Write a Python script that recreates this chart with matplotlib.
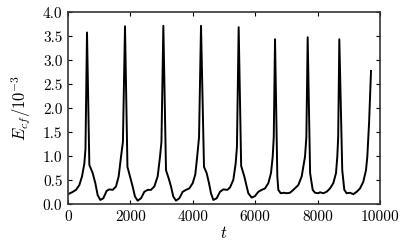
import matplotlib
matplotlib.use("Agg")
import matplotlib.pyplot as plt
from matplotlib.ticker import MultipleLocator, FormatStrFormatter

t = [0, 130, 256, 363, 449, 524, 560, 609, 684, 791, 876, 951, 1036, 1132, 1239, 1325,
     1432, 1538, 1624, 1699, 1760, 1827, 1905, 1987, 2072, 2147, 2233, 2340, 2446, 2553,
     2660, 2766, 2874, 2949, 2995, 3056, 3141, 3227, 3301, 3375, 3462, 3568, 3676, 3782,
     3888, 3997, 4080, 4140, 4200, 4263, 4359, 4444, 4519, 4583, 4658, 4766, 4872, 4978,
     5106, 5192, 5299, 5374, 5415, 5470, 5550, 5651, 5727, 5779, 5886, 5994, 6100, 6207,
     6314, 6421, 6506, 6561, 6595, 6635, 6709, 6741, 6817, 6923, 7009, 7115, 7221, 7381,
     7490, 7596, 7640, 7682, 7760, 7843, 7917, 8022, 8077, 8183, 8290, 8397, 8504, 8590,
     8631, 8660, 8696, 8790, 8856, 8931, 9038, 9145, 9253, 9359, 9465, 9551, 9593, 9650,
     9712]
E = [0.21, 0.25, 0.30, 0.40, 0.58, 0.85, 1.15, 3.58, 0.82, 0.65, 0.44, 0.19, 0.09, 0.125,
     0.28, 0.31, 0.30, 0.37, 0.58, 0.99, 1.30, 3.71, 0.78, 0.58, 0.37, 0.16, 0.075, 0.125,
     0.26, 0.30, 0.30, 0.37, 0.58, 0.99, 1.30, 3.72, 0.71, 0.54, 0.37, 0.16, 0.075, 0.125,
     0.26, 0.30, 0.33, 0.44, 0.62, 0.99, 1.40, 3.72, 0.78, 0.65, 0.44, 0.23, 0.09, 0.125,
     0.26, 0.31, 0.30, 0.35, 0.51, 0.85, 1.20, 3.69, 0.80, 0.58, 0.37, 0.23, 0.14, 0.17,
     0.26, 0.30, 0.33, 0.44, 0.65, 0.99, 1.40, 3.44, 0.58, 0.30, 0.23, 0.24, 0.23, 0.24,
     0.30, 0.40, 0.58, 0.99, 1.40, 3.48, 0.65, 0.30, 0.24, 0.23, 0.25, 0.23, 0.26, 0.33,
     0.44, 0.65, 0.99, 1.40, 3.44, 0.71, 0.30, 0.23, 0.24, 0.21, 0.26, 0.33, 0.47, 0.71,
     0.99, 1.70, 2.78]

xticks = [0, 2000, 4000, 6000, 8000, 10000]

plt.rcParams['font.family'] = ['cmr10', 'DejaVu Serif']
plt.rcParams['mathtext.fontset'] = 'cm'
plt.rcParams['axes.unicode_minus'] = False

fig = plt.figure(figsize=(4.0, 2.47), dpi=100)
ax = fig.add_axes([0.17, 0.173, 0.78, 0.777])
ax.plot(t, E, color='black', lw=1.4)
ax.set_xlim(0, 10000)
ax.set_ylim(0, 4.0)
ax.set_xticks(xticks)
ax.yaxis.set_major_locator(MultipleLocator(0.5))
ax.yaxis.set_major_formatter(FormatStrFormatter('%.1f'))
ax.tick_params(direction='in', top=True, right=True, length=3, width=0.8,
               labelsize=11, pad=4)
for s in ax.spines.values():
    s.set_linewidth(1.2)
    s.set_color('#333333')
ax.set_xlabel(r'$t$', fontsize=12, labelpad=1)
ax.set_ylabel(r'$E_{cf}/10^{-3}$', fontsize=12, labelpad=7)
fig.savefig('out.png', dpi=100)
